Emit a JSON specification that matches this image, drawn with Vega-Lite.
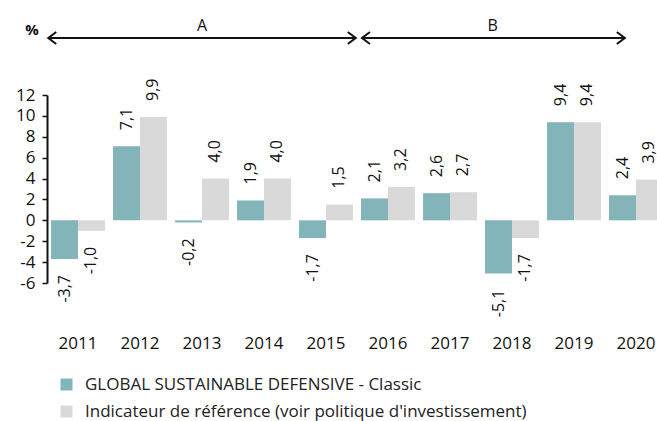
{
  "$schema": "https://vega.github.io/schema/vega-lite/v6.json",
  "width": 620,
  "height": 188,
  "autosize": "none",
  "padding": {"left": 47, "top": 95, "right": -10, "bottom": 138},
  "background": "white",
  "config": {
    "font": "Open Sans",
    "view": {"stroke": null},
    "locale": {"number": {"decimal": ",", "thousands": " ", "grouping": [3], "currency": ["", " €"], "minus": "-"}}
  },
  "datasets": {
    "perf": [
      {"year": "2011", "series": "GLOBAL SUSTAINABLE DEFENSIVE - Classic", "value": -3.7},
      {"year": "2011", "series": "Indicateur de référence (voir politique d'investissement)", "value": -1.0},
      {"year": "2012", "series": "GLOBAL SUSTAINABLE DEFENSIVE - Classic", "value": 7.1},
      {"year": "2012", "series": "Indicateur de référence (voir politique d'investissement)", "value": 9.9},
      {"year": "2013", "series": "GLOBAL SUSTAINABLE DEFENSIVE - Classic", "value": -0.2},
      {"year": "2013", "series": "Indicateur de référence (voir politique d'investissement)", "value": 4.0},
      {"year": "2014", "series": "GLOBAL SUSTAINABLE DEFENSIVE - Classic", "value": 1.9},
      {"year": "2014", "series": "Indicateur de référence (voir politique d'investissement)", "value": 4.0},
      {"year": "2015", "series": "GLOBAL SUSTAINABLE DEFENSIVE - Classic", "value": -1.7},
      {"year": "2015", "series": "Indicateur de référence (voir politique d'investissement)", "value": 1.5},
      {"year": "2016", "series": "GLOBAL SUSTAINABLE DEFENSIVE - Classic", "value": 2.1},
      {"year": "2016", "series": "Indicateur de référence (voir politique d'investissement)", "value": 3.2},
      {"year": "2017", "series": "GLOBAL SUSTAINABLE DEFENSIVE - Classic", "value": 2.6},
      {"year": "2017", "series": "Indicateur de référence (voir politique d'investissement)", "value": 2.7},
      {"year": "2018", "series": "GLOBAL SUSTAINABLE DEFENSIVE - Classic", "value": -5.1},
      {"year": "2018", "series": "Indicateur de référence (voir politique d'investissement)", "value": -1.7},
      {"year": "2019", "series": "GLOBAL SUSTAINABLE DEFENSIVE - Classic", "value": 9.4},
      {"year": "2019", "series": "Indicateur de référence (voir politique d'investissement)", "value": 9.4},
      {"year": "2020", "series": "GLOBAL SUSTAINABLE DEFENSIVE - Classic", "value": 2.4},
      {"year": "2020", "series": "Indicateur de référence (voir politique d'investissement)", "value": 3.9}
    ],
    "periods": [
      {"period": "A", "start": 0.02, "end": 4.98, "mid": 2.5},
      {"period": "B", "start": 5.08, "end": 9.32, "mid": 7.19}
    ]
  },
  "layer": [
    {
      "data": {"name": "perf"},
      "encoding": {
        "x": {
          "field": "year", "type": "nominal",
          "scale": {"paddingInner": 0.13, "paddingOuter": 0.065},
          "axis": {"title": null, "domain": false, "ticks": false, "labelAngle": 0, "labelPadding": 52, "labelFontSize": 17, "labelColor": "#111", "labelBaseline": "top"}
        },
        "xOffset": {"field": "series", "type": "nominal", "sort": ["GLOBAL SUSTAINABLE DEFENSIVE - Classic", "Indicateur de référence (voir politique d'investissement)"]},
        "y": {
          "field": "value", "type": "quantitative",
          "scale": {"domain": [-6, 12], "nice": false, "zero": false},
          "axis": {"title": null, "values": [-6, -4, -2, 0, 2, 4, 6, 8, 10, 12], "labelOverlap": false, "labelFlush": false, "grid": false, "domainColor": "#111", "domainWidth": 2, "tickColor": "#111", "tickWidth": 1.5, "tickSize": 5, "labelFontSize": 17, "labelColor": "#111", "labelPadding": 7}
        }
      },
      "layer": [
        {
          "mark": {"type": "bar"},
          "encoding": {
            "color": {
              "field": "series", "type": "nominal",
              "scale": {"domain": ["GLOBAL SUSTAINABLE DEFENSIVE - Classic", "Indicateur de référence (voir politique d'investissement)"], "range": ["#82b4ba", "#d9d9d9"]},
              "legend": {"title": null, "orient": "none", "legendX": 11, "legendY": 281, "symbolType": "square", "symbolSize": 144, "symbolStrokeWidth": 0, "labelFontSize": 17, "labelColor": "#222", "labelLimit": 700, "rowPadding": 9, "labelOffset": 10}
            }
          }
        },
        {
          "transform": [{"filter": "datum.value >= 0"}],
          "mark": {"type": "text", "angle": 270, "align": "left", "baseline": "middle", "dx": 16, "fontSize": 16, "color": "#111"},
          "encoding": {"text": {"field": "value", "type": "quantitative", "format": ".1f"}}
        },
        {
          "transform": [{"filter": "datum.value < 0"}],
          "mark": {"type": "text", "angle": 270, "align": "right", "baseline": "middle", "dx": -16, "fontSize": 16, "color": "#111"},
          "encoding": {"text": {"field": "value", "type": "quantitative", "format": ".1f"}}
        },
        {
          "mark": {"type": "rule", "color": "#a6a6a6", "strokeWidth": 2},
          "encoding": {"y": {"datum": 0, "type": "quantitative", "scale": {"domain": [-6, 12], "nice": false, "zero": false},
            "axis": {"title": null, "values": [-6, -4, -2, 0, 2, 4, 6, 8, 10, 12], "labelOverlap": false, "labelFlush": false, "grid": false, "domainColor": "#111", "domainWidth": 2, "tickColor": "#111", "tickWidth": 1.5, "tickSize": 5, "labelFontSize": 17, "labelColor": "#111", "labelPadding": 7}}}
        }
      ]
    },
    {
      "data": {"name": "periods"},
      "encoding": {
        "y": {"datum": 17.46, "type": "quantitative", "scale": {"domain": [-6, 12], "nice": false, "zero": false},
          "axis": {"title": null, "values": [-6, -4, -2, 0, 2, 4, 6, 8, 10, 12], "labelOverlap": false, "labelFlush": false, "grid": false, "domainColor": "#111", "domainWidth": 2, "tickColor": "#111", "tickWidth": 1.5, "tickSize": 5, "labelFontSize": 17, "labelColor": "#111", "labelPadding": 7}}
      },
      "layer": [
        {
          "mark": {"type": "rule", "color": "#111", "strokeWidth": 2},
          "encoding": {
            "x": {"field": "start", "type": "quantitative", "scale": {"domain": [0, 10]}, "axis": null},
            "x2": {"field": "end"}
          }
        },
        {
          "mark": {"type": "point", "shape": "M 1 -0.75 L 0 0 L 1 0.75", "filled": false, "stroke": "#111", "strokeWidth": 2, "size": 256, "opacity": 1},
          "encoding": {
            "x": {"field": "start", "type": "quantitative", "scale": {"domain": [0, 10]}, "axis": null}
          }
        },
        {
          "mark": {"type": "point", "shape": "M -1 -0.75 L 0 0 L -1 0.75", "filled": false, "stroke": "#111", "strokeWidth": 2, "size": 256, "opacity": 1},
          "encoding": {
            "x": {"field": "end", "type": "quantitative", "scale": {"domain": [0, 10]}, "axis": null}
          }
        },
        {
          "mark": {"type": "text", "fontSize": 16, "color": "#111", "baseline": "bottom", "dy": -4},
          "encoding": {
            "x": {"field": "mid", "type": "quantitative", "scale": {"domain": [0, 10]}, "axis": null},
            "text": {"field": "period"}
          }
        },
        {
          "data": {"values": [{"label": "%", "pos": -0.24}]},
          "mark": {"type": "text", "fontSize": 15, "fontWeight": "bold", "color": "#111", "baseline": "middle", "dy": -8},
          "encoding": {
            "x": {"field": "pos", "type": "quantitative", "scale": {"domain": [0, 10]}, "axis": null},
            "text": {"field": "label"}
          }
        }
      ]
    }
  ],
  "resolve": {"scale": {"x": "independent"}}
}
